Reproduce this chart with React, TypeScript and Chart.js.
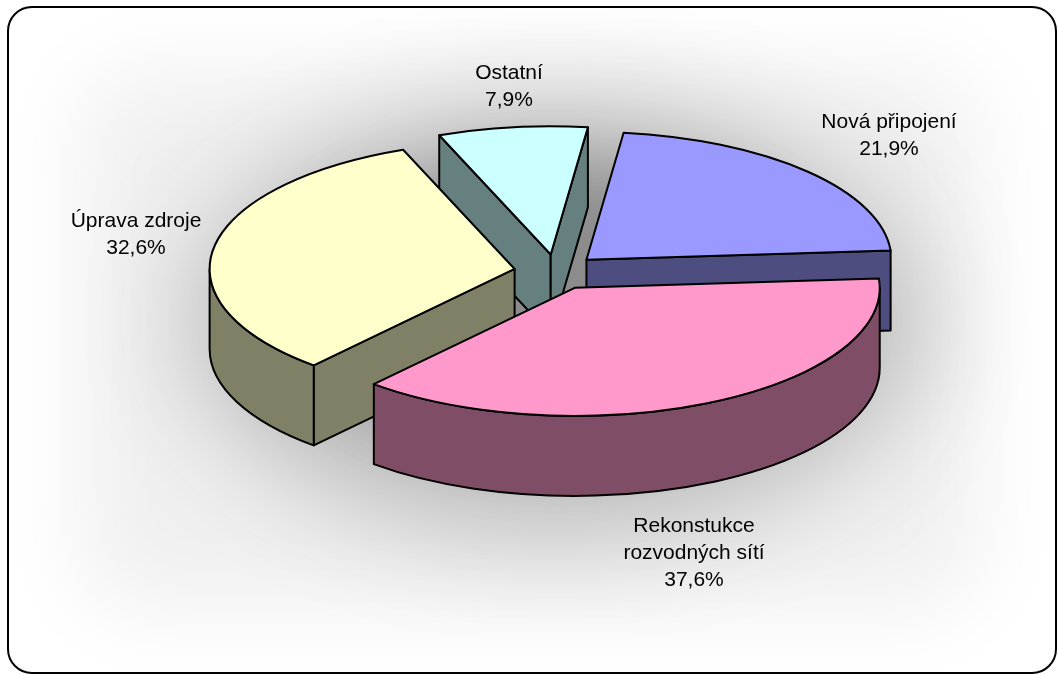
import React, { useEffect, useRef } from "react";
import { Chart, registerables } from "chart.js";

Chart.register(...registerables);

// ---- data ----
const categories = ["Nová připojení", "Rekonstukce rozvodných sítí", "Úprava zdroje", "Ostatní"];
const labelLines = [["Nová připojení"], ["Rekonstukce", "rozvodných sítí"], ["Úprava zdroje"], ["Ostatní"]];
const shares = [21.9, 37.6, 32.6, 7.9];

// ---- styles / layout ----
const topColors = ["#9999FF", "#FF99CC", "#FFFFCC", "#CCFFFF"];
const sideColors = ["#4D4D80", "#804D66", "#808066", "#668080"];
const labelAnchors = [
  [889, 128],
  [694, 532],
  [136, 227],
  [509, 79],
];
const W = 1058;
const H = 674;
const SQUASH = 0.42;
const DEPTH = 80;
const EXPLODE = 42;
const RADIUS = 305;
const ROTATION = 7;
const FONT = "21px 'Liberation Sans', Arial, sans-serif";
const LINE_H = 27;

const fmt = (v: number) => v.toFixed(1).replace(".", ",") + "%";

function roundRectPath(ctx: CanvasRenderingContext2D, x: number, y: number, w: number, h: number, r: number) {
  ctx.beginPath();
  ctx.moveTo(x + r, y);
  ctx.lineTo(x + w - r, y);
  ctx.arcTo(x + w, y, x + w, y + r, r);
  ctx.lineTo(x + w, y + h - r);
  ctx.arcTo(x + w, y + h, x + w - r, y + h, r);
  ctx.lineTo(x + r, y + h);
  ctx.arcTo(x, y + h, x, y + h - r, r);
  ctx.lineTo(x, y + r);
  ctx.arcTo(x, y, x + r, y, r);
  ctx.closePath();
}

// soft blurred shape via off-screen shadow
function softShape(ctx: CanvasRenderingContext2D, color: string, blur: number, path: (dx: number) => void) {
  const SHIFT = 3000;
  ctx.save();
  ctx.shadowColor = color;
  ctx.shadowBlur = blur;
  ctx.shadowOffsetX = SHIFT;
  ctx.shadowOffsetY = 0;
  ctx.fillStyle = "#000";
  path(-SHIFT);
  ctx.fill();
  ctx.restore();
}

const pie3d = {
  id: "pie3d",
  beforeDraw(chart: any) {
    const ctx: CanvasRenderingContext2D = chart.ctx;
    ctx.save();
    ctx.fillStyle = "#ffffff";
    ctx.fillRect(0, 0, W, H);
    roundRectPath(ctx, 8, 7, 1048, 666, 24);
    ctx.save();
    ctx.clip();
    softShape(ctx, "#f0f0f0", 90, (dx) => {
      roundRectPath(ctx, 80 + dx, 70, 900, 540, 60);
    });
    softShape(ctx, "#b8b8b8", 110, (dx) => {
      ctx.beginPath();
      ctx.ellipse(555 + dx, 320, 365, 210, 0, 0, Math.PI * 2);
    });
    softShape(ctx, "#8c8c8c", 70, (dx) => {
      ctx.beginPath();
      ctx.ellipse(555 + dx, 300, 250, 130, 0, 0, Math.PI * 2);
    });
    ctx.restore();
    roundRectPath(ctx, 8, 7, 1048, 666, 24);
    ctx.lineWidth = 2;
    ctx.strokeStyle = "#000";
    ctx.stroke();
    ctx.restore();
  },
  beforeDatasetDraw() {
    return false;
  },
  afterDatasetsDraw(chart: any) {
    const ctx: CanvasRenderingContext2D = chart.ctx;
    const meta = chart.getDatasetMeta(0);
    const slices = meta.data.map((el: any, i: number) => {
      const p = el.getProps(["x", "y", "startAngle", "endAngle", "outerRadius"], true);
      const mid = (p.startAngle + p.endAngle) / 2;
      return {
        i,
        start: p.startAngle,
        end: p.endAngle,
        mid,
        r: p.outerRadius,
        cx: p.x + EXPLODE * Math.cos(mid),
        cy: p.y + EXPLODE * Math.sin(mid) * SQUASH,
      };
    });
    slices.sort((a: any, b: any) => Math.sin(a.mid) - Math.sin(b.mid));

    ctx.save();
    ctx.lineWidth = 2;
    ctx.lineJoin = "round";
    ctx.strokeStyle = "#000";
    for (const s of slices) {
      const pt = (a: number) => [s.cx + s.r * Math.cos(a), s.cy + s.r * SQUASH * Math.sin(a)];
      const side = sideColors[s.i];
      const quad = (a: number) => {
        const p = pt(a);
        ctx.beginPath();
        ctx.moveTo(s.cx, s.cy);
        ctx.lineTo(p[0], p[1]);
        ctx.lineTo(p[0], p[1] + DEPTH);
        ctx.lineTo(s.cx, s.cy + DEPTH);
        ctx.closePath();
        ctx.fillStyle = side;
        ctx.fill();
        ctx.stroke();
      };
      if (Math.sin(s.start - Math.PI / 2) > 0) quad(s.start);
      if (Math.sin(s.end + Math.PI / 2) > 0) quad(s.end);
      for (let k = -2; k <= 2; k++) {
        const lo = Math.max(s.start, 2 * Math.PI * k);
        const hi = Math.min(s.end, 2 * Math.PI * k + Math.PI);
        if (hi > lo) {
          ctx.beginPath();
          ctx.ellipse(s.cx, s.cy, s.r, s.r * SQUASH, 0, lo, hi, false);
          ctx.ellipse(s.cx, s.cy + DEPTH, s.r, s.r * SQUASH, 0, hi, lo, true);
          ctx.closePath();
          ctx.fillStyle = side;
          ctx.fill();
          ctx.stroke();
        }
      }
      ctx.beginPath();
      ctx.moveTo(s.cx, s.cy);
      ctx.ellipse(s.cx, s.cy, s.r, s.r * SQUASH, 0, s.start, s.end, false);
      ctx.closePath();
      ctx.fillStyle = topColors[s.i];
      ctx.fill();
      ctx.stroke();
    }
    ctx.restore();

    // labels
    ctx.save();
    ctx.font = FONT;
    ctx.fillStyle = "#000";
    ctx.textAlign = "center";
    ctx.textBaseline = "alphabetic";
    labelLines.forEach((lines, i) => {
      const all = [...lines, fmt(shares[i])];
      const [x, y] = labelAnchors[i];
      all.forEach((t, j) => ctx.fillText(t, x, y + j * LINE_H));
    });
    ctx.restore();
  },
};

export default function App() {
  const ref = useRef<HTMLCanvasElement | null>(null);
  useEffect(() => {
    if (!ref.current) return;
    const chart = new Chart(ref.current, {
      type: "pie",
      data: {
        labels: categories,
        datasets: [
          {
            data: shares,
            backgroundColor: topColors,
            borderWidth: 0,
            offset: 0,
            radius: RADIUS,
            rotation: ROTATION,
          } as any,
        ],
      },
      options: {
        responsive: false,
        animation: false,
        events: [],
        layout: { padding: { left: 54, right: 0, top: 0, bottom: 130 } },
        plugins: { legend: { display: false }, tooltip: { enabled: false } },
      } as any,
      plugins: [pie3d as any],
    });
    return () => chart.destroy();
  }, []);
  return (
    <div style={{ position: "absolute", left: 0, top: 0, width: W, height: H }}>
      <canvas ref={ref} width={W} height={H} style={{ display: "block", width: W, height: H }} />
    </div>
  );
}
